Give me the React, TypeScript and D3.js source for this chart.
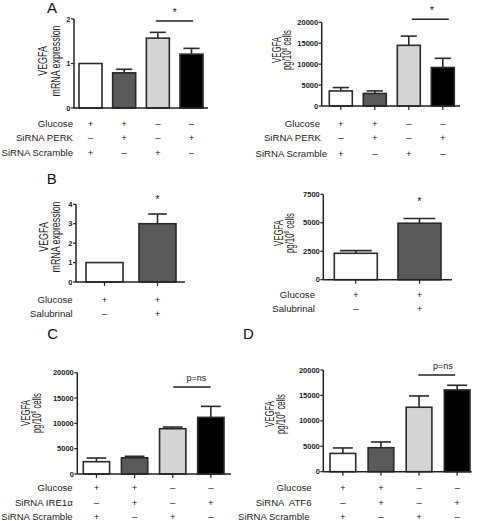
import React from "react";
import * as d3 from "d3";

// ---------- DATA ----------
const GROUPS4 = ["g1", "g2", "g3", "g4"];
const GROUPS2 = ["g1", "g2"];

const A1_VALUES = [1.0, 0.79, 1.57, 1.21];
const A1_ERR = [0, 0.08, 0.13, 0.13];
const A1_TICKS = [0, 1, 2];

const A2_VALUES = [3600, 3000, 14500, 9200];
const A2_ERR = [800, 600, 2200, 2200];
const A2_TICKS = [0, 5000, 10000, 15000, 20000];

const B1_VALUES = [1.0, 3.0];
const B1_ERR = [0, 0.5];
const B1_TICKS = [0, 1, 2, 3, 4];

const B2_VALUES = [2320, 4960];
const B2_ERR = [230, 410];
const B2_TICKS = [0, 2500, 5000, 7500];

const C_VALUES = [2430, 3200, 8940, 11180];
const C_ERR = [720, 300, 330, 2170];
const C_TICKS = [0, 5000, 10000, 15000, 20000];

const D_VALUES = [3600, 4720, 12680, 16080];
const D_ERR = [1070, 1130, 2220, 920];
const D_TICKS = [0, 5000, 10000, 15000, 20000];

const ROWS_PERK = [
  { label: "Glucose", signs: ["+", "+", "–", "–"] },
  { label: "SiRNA PERK", signs: ["–", "+", "–", "+"] },
  { label: "SiRNA Scramble", signs: ["+", "–", "+", "–"] },
];
const ROWS_SAL = [
  { label: "Glucose", signs: ["+", "+"] },
  { label: "Salubrinal", signs: ["–", "+"] },
];
const ROWS_IRE = [
  { label: "Glucose", signs: ["+", "+", "–", "–"] },
  { label: "SiRNA IRE1α", signs: ["–", "+", "–", "+"] },
  { label: "SiRNA Scramble", signs: ["+", "–", "+", "–"] },
];
const ROWS_ATF = [
  { label: "Glucose", signs: ["+", "+", "–", "–"] },
  { label: "SiRNA  ATF6", signs: ["–", "+", "–", "+"] },
  { label: "SiRNA Scramble", signs: ["+", "–", "+", "–"] },
];

const FILLS4 = ["#ffffff", "#5a5a5a", "#d4d4d4", "#000000"];
const FILLS2 = ["#ffffff", "#5a5a5a"];

const FONT = "'Liberation Sans', Arial, Helvetica, sans-serif";

type Sig = { from: number; to: number; level: number; text: string; textDx: number; textDy: number; x0: number; x1: number };

type PanelCfg = {
  groups: string[];
  values: number[];
  err: number[];
  ticks: number[];
  fills: string[];
  axisX: number;
  axisEnd: number;
  y0: number;
  yTop: number;
  barL: number;
  barR: number;
  bw: number;
  capRatio: number;
  xTicks: boolean;
  title: [string, string];
  titleX: [number, number];
  titleY: number;
  titleScale: number;
  superscript: boolean;
  rows: { label: string; signs: string[] }[];
  rowY: number[];
  rowLabelX: number[];
  sig?: Sig;
  star?: { bar: number; y: number };
};

function Panel({ c }: { c: PanelCfg }) {
  const n = c.groups.length;
  const gap = (c.barR - c.barL - n * c.bw) / Math.max(1, n - 1);
  const step = c.bw + gap;
  const x = d3
    .scaleBand<string>()
    .domain(c.groups)
    .range([c.barL, c.barR])
    .paddingInner(gap / step)
    .paddingOuter(0);
  const maxT = c.ticks[c.ticks.length - 1];
  const y = d3.scaleLinear().domain([0, maxT]).range([c.y0, c.yTop]);
  const bwid = x.bandwidth();
  const cx = (i: number) => (x(c.groups[i]) as number) + bwid / 2;
  const fmt = (v: number) => String(v);

  return (
    <g fontFamily={FONT}>
      {/* bars */}
      {c.groups.map((g, i) => (
        <rect
          key={g}
          x={x(g)}
          y={y(c.values[i])}
          width={bwid}
          height={c.y0 - y(c.values[i])}
          fill={c.fills[i]}
          stroke="#2a2a2a"
          strokeWidth={1.6}
        />
      ))}
      {/* error bars */}
      {c.groups.map((g, i) =>
        c.err[i] > 0 ? (
          <g key={"e" + g} stroke="#2a2a2a" strokeWidth={1.6}>
            <line x1={cx(i)} x2={cx(i)} y1={y(c.values[i])} y2={y(c.values[i] + c.err[i])} />
            <line
              x1={cx(i) - (bwid * c.capRatio) / 2}
              x2={cx(i) + (bwid * c.capRatio) / 2}
              y1={y(c.values[i] + c.err[i])}
              y2={y(c.values[i] + c.err[i])}
            />
          </g>
        ) : null
      )}
      {/* y axis */}
      <line x1={c.axisX} x2={c.axisX} y1={c.y0} y2={c.yTop} stroke="#222" strokeWidth={1.5} />
      {c.ticks.map((t) => (
        <g key={t}>
          <line x1={c.axisX - 3} x2={c.axisX} y1={y(t)} y2={y(t)} stroke="#222" strokeWidth={1.2} />
          <text
            x={c.axisX - 3.5}
            y={y(t)}
            dy="0.35em"
            textAnchor="end"
            fontSize={7.5}
            fontWeight="bold"
            fill="#222"
          >
            {fmt(t)}
          </text>
        </g>
      ))}
      {/* x axis */}
      <line x1={c.axisX} x2={c.axisEnd} y1={c.y0} y2={c.y0} stroke="#222" strokeWidth={1.6} />
      {c.xTicks &&
        c.groups.map((g, i) => (
          <line key={"xt" + g} x1={cx(i)} x2={cx(i)} y1={c.y0} y2={c.y0 + 4} stroke="#222" strokeWidth={1.2} />
        ))}
      {/* y title */}
      <text
        transform={`translate(${c.titleX[0]},${c.titleY}) rotate(-90) scale(${c.titleScale},1)`}
        textAnchor="middle"
        dy="0.35em"
        fontSize={12}
        fill="#222"
      >
        {c.title[0]}
      </text>
      <text
        transform={`translate(${c.titleX[1]},${c.titleY}) rotate(-90) scale(${c.titleScale},1)`}
        textAnchor="middle"
        dy="0.35em"
        fontSize={12}
        fill="#222"
      >
        {c.superscript ? (
          <>
            <tspan>{c.title[1]}</tspan>
            <tspan fontSize={7.5} dy={-4.5}>6</tspan>
            <tspan dy={4.5}> cells</tspan>
          </>
        ) : (
          c.title[1]
        )}
      </text>
      {/* condition rows */}
      {c.rows.map((r, ri) => (
        <g key={r.label + ri}>
          <text
            x={c.rowLabelX[ri]}
            y={c.rowY[ri]}
            dy="0.35em"
            textAnchor="end"
            fontSize={9.6}
            fill="#222"
            style={{ whiteSpace: "pre" }}
          >
            {r.label}
          </text>
          {r.signs.map((s, si) => (
            <text key={si} x={cx(si)} y={c.rowY[ri]} dy="0.35em" textAnchor="middle" fontSize={9.6} fill="#222">
              {s}
            </text>
          ))}
        </g>
      ))}
      {/* significance */}
      {c.sig && (
        <g>
          <line
            x1={cx(c.sig.from) + c.sig.x0}
            x2={cx(c.sig.to) + c.sig.x1}
            y1={y(c.sig.level)}
            y2={y(c.sig.level)}
            stroke="#222"
            strokeWidth={1.5}
          />
          <text
            x={(cx(c.sig.from) + cx(c.sig.to)) / 2 + c.sig.textDx}
            y={y(c.sig.level) + c.sig.textDy}
            dy="0.35em"
            textAnchor="middle"
            fontSize={c.sig.text === "*" ? 11 : 9}
            fill="#222"
          >
            {c.sig.text}
          </text>
        </g>
      )}
      {c.star && (
        <text x={cx(c.star.bar)} y={c.star.y} dy="0.35em" textAnchor="middle" fontSize={11} fill="#222">
          *
        </text>
      )}
    </g>
  );
}

const PANELS: PanelCfg[] = [
  {
    groups: GROUPS4, values: A1_VALUES, err: A1_ERR, ticks: A1_TICKS, fills: FILLS4,
    axisX: 74, axisEnd: 208, y0: 108, yTop: 19, barL: 79, barR: 203, bw: 23, capRatio: 0.7, xTicks: false,
    title: ["VEGFA", "mRNA expression"], titleX: [43, 55.5], titleY: 61, titleScale: 0.74, superscript: false,
    rows: ROWS_PERK, rowY: [124, 137.3, 152.7], rowLabelX: [73, 73, 73],
    sig: { from: 2, to: 3, level: 1.955, text: "*", textDx: 0, textDy: -9, x0: -2, x1: 1.5 },
  },
  {
    groups: GROUPS4, values: A2_VALUES, err: A2_ERR, ticks: A2_TICKS, fills: FILLS4,
    axisX: 321.7, axisEnd: 460, y0: 106, yTop: 22.3, barL: 329.3, barR: 454.3, bw: 23, capRatio: 0.7, xTicks: true,
    title: ["VEGFA", "pg/10"], titleX: [276.3, 287], titleY: 50, titleScale: 0.65, superscript: true,
    rows: ROWS_PERK, rowY: [124, 137.7, 153.3], rowLabelX: [320, 321, 327],
    sig: { from: 2, to: 3, level: 20700, text: "*", textDx: 6, textDy: -9, x0: 3, x1: 6 },
  },
  {
    groups: GROUPS2, values: B1_VALUES, err: B1_ERR, ticks: B1_TICKS, fills: FILLS2,
    axisX: 76, axisEnd: 185, y0: 282, yTop: 204.3, barL: 86, barR: 176, bw: 37, capRatio: 0.5, xTicks: true,
    title: ["VEGFA", "mRNA expression"], titleX: [44, 55.5], titleY: 237, titleScale: 0.74, superscript: false,
    rows: ROWS_SAL, rowY: [300, 313.3], rowLabelX: [72.7, 72.7],
    star: { bar: 1, y: 199 },
  },
  {
    groups: GROUPS2, values: B2_VALUES, err: B2_ERR, ticks: B2_TICKS, fills: FILLS2,
    axisX: 323.3, axisEnd: 452, y0: 279.7, yTop: 194.3, barL: 334.3, barR: 441, bw: 43, capRatio: 0.74, xTicks: true,
    title: ["VEGFA", "pg/10"], titleX: [278.3, 289.3], titleY: 233, titleScale: 0.65, superscript: true,
    rows: ROWS_SAL, rowY: [295, 309], rowLabelX: [315, 315],
    star: { bar: 1, y: 201 },
  },
  {
    groups: GROUPS4, values: C_VALUES, err: C_ERR, ticks: C_TICKS, fills: FILLS4,
    axisX: 77.3, axisEnd: 231, y0: 474, yTop: 372.7, barL: 83.3, barR: 224, bw: 26.3, capRatio: 0.75, xTicks: true,
    title: ["VEGFA", "pg/10"], titleX: [25.5, 36.5], titleY: 413, titleScale: 0.65, superscript: true,
    rows: ROWS_IRE, rowY: [487.7, 502.7, 516.8], rowLabelX: [72.7, 72.7, 72.7],
    sig: { from: 2, to: 3, level: 17200, text: "p=ns", textDx: 4.5, textDy: -9.3, x0: 0.5, x1: -0.3 },
  },
  {
    groups: GROUPS4, values: D_VALUES, err: D_ERR, ticks: D_TICKS, fills: FILLS4,
    axisX: 323.3, axisEnd: 471.7, y0: 471.7, yTop: 370, barL: 330, barR: 470, bw: 25.7, capRatio: 0.78, xTicks: true,
    title: ["VEGFA", "pg/10"], titleX: [269.3, 280.3], titleY: 414, titleScale: 0.65, superscript: true,
    rows: ROWS_ATF, rowY: [487.7, 502.7, 516.8], rowLabelX: [311.7, 311.5, 309.5],
    sig: { from: 2, to: 3, level: 19000, text: "p=ns", textDx: 4.7, textDy: -9, x0: -0.7, x1: -2 },
  },
];

const PANEL_LETTERS = [
  { t: "A", x: 52, y: 7.5 },
  { t: "B", x: 51.7, y: 178.3 },
  { t: "C", x: 52.7, y: 333.5 },
  { t: "D", x: 248.3, y: 333.5 },
];

export default function App() {
  return (
    <svg
      width={477}
      height={521}
      style={{ position: "absolute", left: 0, top: 0, background: "#fff" }}
    >
      <rect width={477} height={521} fill="#fff" />
      {PANELS.map((p, i) => (
        <Panel key={i} c={p} />
      ))}
      {PANEL_LETTERS.map((l) => (
        <text
          key={l.t}
          x={l.x}
          y={l.y}
          dy="0.35em"
          textAnchor="middle"
          fontFamily={FONT}
          fontSize={15}
          fill="#111"
        >
          {l.t}
        </text>
      ))}
    </svg>
  );
}
